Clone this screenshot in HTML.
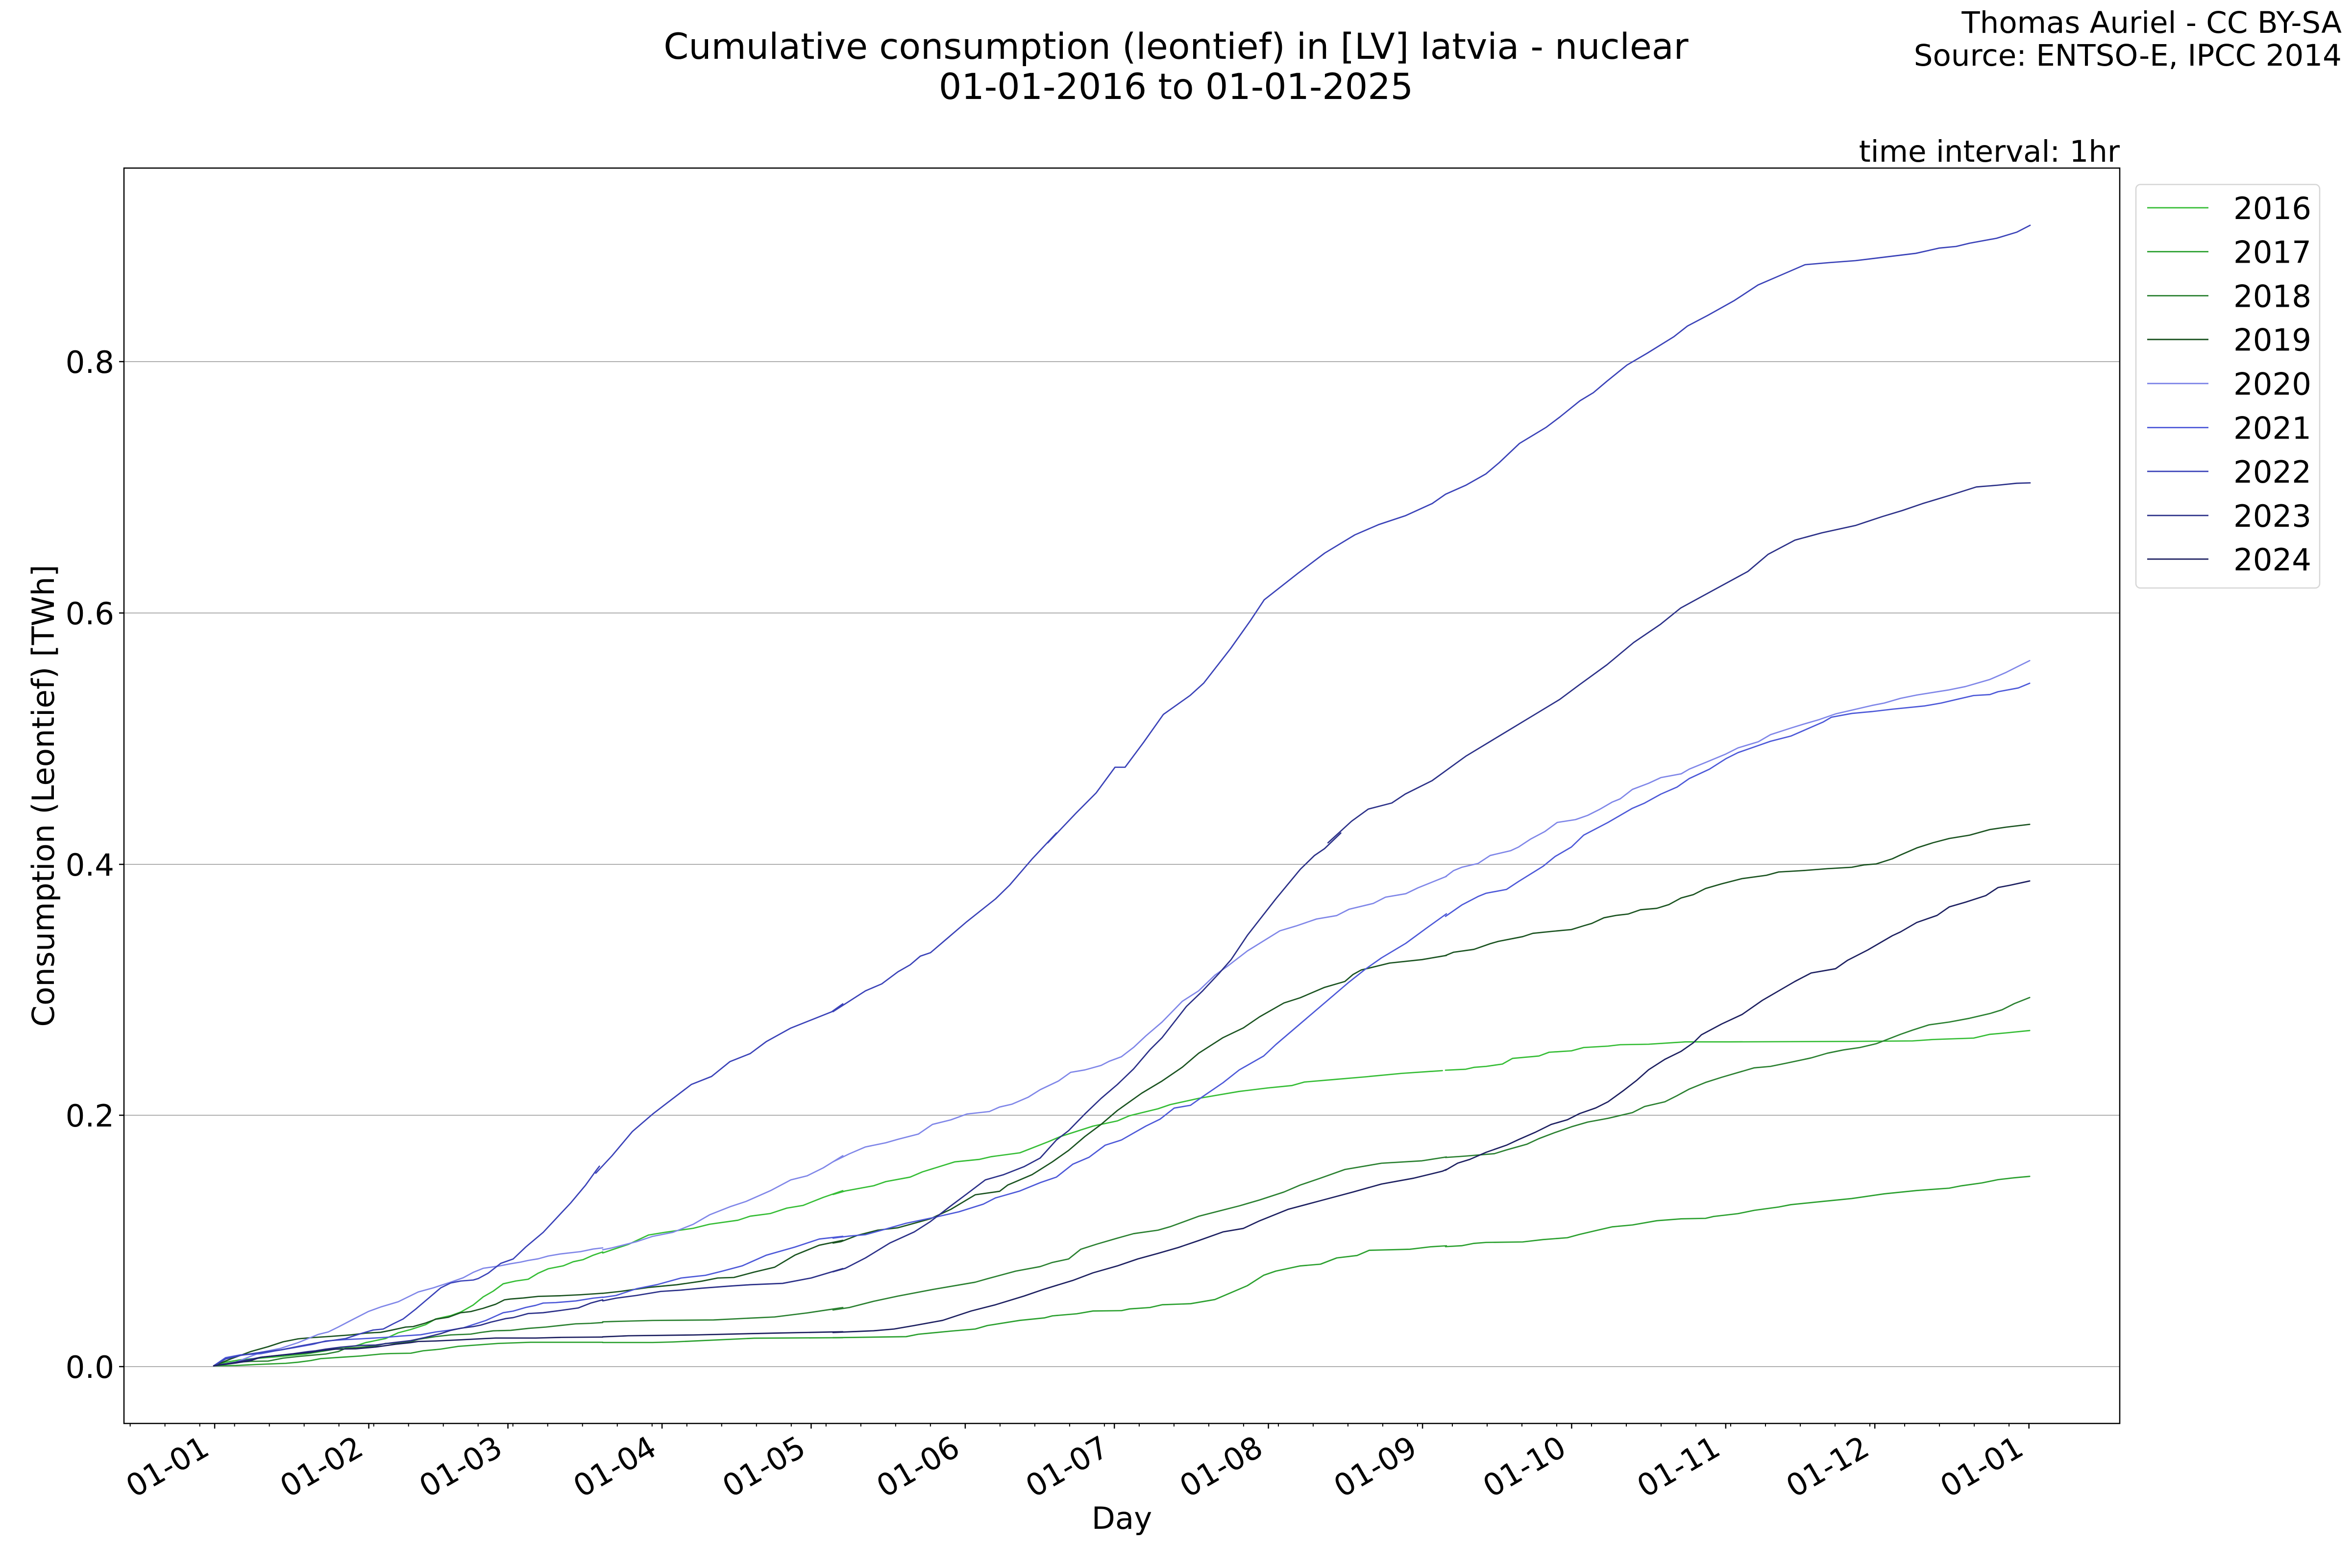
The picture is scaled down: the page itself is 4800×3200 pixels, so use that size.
<!DOCTYPE html>
<html>
<head>
<meta charset="utf-8">
<style>
html,body{margin:0;padding:0;background:#fff;}
svg{display:block;}
text{font-family:"DejaVu Sans","Liberation Sans",sans-serif;fill:#000;}
.s{fill:none;stroke-width:2.7;stroke-linejoin:round;stroke-linecap:round;}
.s polyline{vector-effect:non-scaling-stroke;}
</style>
</head>
<body>
<svg width="4800" height="3200" viewBox="0 0 4800 3200" xmlns="http://www.w3.org/2000/svg">
<rect x="0" y="0" width="4800" height="3200" fill="#fff"/>

<!-- titles -->
<text x="2400" y="120" font-size="73" text-anchor="middle">Cumulative consumption (leontief) in [LV] latvia - nuclear</text>
<text x="2400" y="202" font-size="73" text-anchor="middle">01-01-2016 to 01-01-2025</text>
<text x="4779" y="67" font-size="61" text-anchor="end">Thomas Auriel - CC BY-SA</text>
<text x="4779" y="134" font-size="61" text-anchor="end">Source: ENTSO-E, IPCC 2014</text>
<text x="4326" y="330" font-size="61" text-anchor="end">time interval: 1hr</text>

<!-- grid -->
<g stroke="#b0b0b0" stroke-width="2">
<line x1="253" y1="2789" x2="4326" y2="2789"/>
<line x1="253" y1="2276" x2="4326" y2="2276"/>
<line x1="253" y1="1764" x2="4326" y2="1764"/>
<line x1="253" y1="1251" x2="4326" y2="1251"/>
<line x1="253" y1="738" x2="4326" y2="738"/>
</g>

<!-- series -->
<g class="s" stroke="#35bd35">
<polyline transform="translate(430,2380) scale(0.510204,0.333333)" points="12,1222 60,1200 120,1185 200,1175 280,1165 380,1150 460,1130 530,1110 580,1100 620,1080 700,1055 750,1020 800,1000 860,970 900,935 960,915 1000,893 1050,850 1090,800 1130,765 1170,720 1220,703 1270,692 1310,655 1350,628 1410,610 1450,585 1490,572 1530,545 1568,525"/>
<polyline transform="translate(420,1950) scale(0.829082,0.548469)" points="977,1107 1000,1095 1040,1075 1090,1040 1130,1030 1200,1015 1240,1000 1310,985 1340,970 1390,960 1430,940 1470,930 1520,900 1568,875"/>
<polyline transform="translate(1700,1700) scale(0.829082,0.707908)" points="0,1042 30,1032 100,1017 130,1005 190,992 220,977 300,948 360,941 390,933 460,922 530,890 560,875 600,860 640,845 700,830 730,815 800,795 830,783 900,765 950,755 1000,745 1070,735 1130,728 1160,718 1240,710 1310,703 1400,693 1500,685"/>
<polyline transform="translate(2950,1300) scale(0.829082,0.963010)" points="0,918 50,916 70,912 100,910 140,905 165,893 230,888 255,880 310,877 340,870 400,867 430,864 500,863 590,858 700,858 1000,857 1150,856 1200,853 1300,850 1340,842 1380,839 1438,834"/>
</g>

<g class="s" stroke="#2ba02f">
<polyline transform="translate(430,2380) scale(0.510204,0.333333)" points="12,1222 100,1220 200,1213 300,1207 350,1200 400,1190 440,1178 520,1170 600,1162 680,1150 720,1147 800,1145 850,1130 920,1120 990,1103 1080,1093 1150,1085 1280,1078 1568,1078"/>
<polyline transform="translate(420,1950) scale(0.829082,0.548469)" points="977,1440 1100,1440 1150,1438 1350,1424 1568,1422"/>
<polyline transform="translate(1700,1700) scale(0.829082,0.707908)" points="0,1455 180,1452 210,1445 290,1436 350,1430 380,1420 460,1405 520,1398 540,1392 600,1386 640,1378 710,1377 730,1372 780,1368 810,1360 880,1357 940,1345 980,1325 1020,1305 1060,1275 1090,1263 1150,1248 1200,1243 1240,1225 1290,1218 1320,1203 1420,1200 1470,1193 1510,1190"/>
<polyline transform="translate(2950,1300) scale(0.829082,0.963010)" points="0,1292 40,1290 70,1285 100,1283 190,1282 240,1277 300,1273 330,1266 370,1258 410,1250 460,1246 520,1237 580,1233 640,1232 660,1228 720,1222 760,1215 820,1208 850,1203 930,1196 1000,1190 1080,1180 1160,1173 1240,1168 1270,1163 1320,1157 1360,1150 1400,1146 1438,1143"/>
</g>

<g class="s" stroke="#2a8030">
<polyline transform="translate(430,2380) scale(0.510204,0.333333)" points="12,1222 100,1200 160,1195 230,1193 290,1175 350,1165 420,1155 460,1150 510,1135 540,1115 600,1108 660,1100 700,1085 760,1083 800,1075 830,1060 900,1043 960,1033 1040,1028 1080,1018 1130,1008 1200,1005 1270,993 1340,985 1400,975 1460,965 1520,962 1568,957"/>
<polyline transform="translate(420,1950) scale(0.829082,0.548469)" points="977,1363 1000,1362 1100,1358 1250,1356 1330,1350 1400,1345 1480,1330 1568,1310"/>
<polyline transform="translate(1700,1700) scale(0.829082,0.707908)" points="0,1375 40,1368 100,1350 160,1335 250,1315 350,1295 380,1285 450,1263 510,1250 540,1238 580,1228 610,1200 650,1185 700,1168 740,1155 800,1145 830,1135 900,1105 950,1090 1000,1075 1050,1058 1110,1035 1150,1015 1200,995 1260,970 1350,952 1450,945 1510,934"/>
<polyline transform="translate(2950,1300) scale(0.829082,0.963010)" points="0,1103 50,1100 120,1095 150,1087 200,1075 230,1063 270,1050 310,1038 350,1028 400,1020 460,1008 490,995 540,985 570,972 600,958 640,944 680,933 720,923 760,913 800,910 840,903 900,892 940,882 980,875 1020,870 1060,862 1090,852 1120,842 1150,833 1190,822 1240,816 1290,808 1340,798 1370,790 1400,777 1438,764"/>
</g>

<g class="s" stroke="#1a5320">
<polyline transform="translate(430,2380) scale(0.510204,0.333333)" points="12,1222 80,1180 160,1135 230,1105 290,1075 350,1057 400,1050 470,1043 560,1033 620,1022 680,1017 720,1005 780,985 810,982 860,960 900,937 950,925 1000,897 1040,890 1090,870 1140,845 1175,818 1200,813 1250,807 1310,797 1400,793 1480,787 1568,778"/>
<polyline transform="translate(420,1950) scale(0.829082,0.548469)" points="977,1257 1020,1250 1090,1235 1160,1225 1220,1212 1260,1200 1300,1198 1350,1178 1400,1160 1450,1115 1510,1078 1568,1060"/>
<polyline transform="translate(1700,1700) scale(0.829082,0.707908)" points="0,1182 20,1178 60,1160 110,1145 160,1138 200,1125 240,1112 290,1085 350,1043 410,1033 430,1015 490,985 540,948 580,915 620,875 660,840 700,800 760,750 810,715 860,675 900,635 960,590 1010,562 1050,530 1110,490 1150,475 1210,445 1260,428 1280,408 1300,395 1370,375 1450,365 1510,353"/>
<polyline transform="translate(2950,1300) scale(0.829082,0.963010)" points="0,675 20,668 70,662 110,650 130,645 190,635 215,628 260,624 310,620 340,612 360,607 390,595 420,590 450,587 480,578 520,575 550,567 580,553 610,546 640,533 680,523 730,512 790,505 820,498 880,495 940,491 1000,488 1030,483 1060,481 1100,470 1120,462 1160,447 1200,436 1240,427 1290,420 1340,408 1380,403 1438,397"/>
</g>

<g class="s" stroke="#7f86e8">
<polyline transform="translate(430,2380) scale(0.510204,0.333333)" points="12,1222 100,1200 200,1140 280,1115 350,1080 430,1030 470,1015 510,985 560,945 630,890 680,862 750,830 790,800 830,770 890,745 920,730 960,710 1010,683 1050,650 1090,625 1150,612 1200,597 1240,587 1270,577 1310,567 1350,550 1400,537 1480,523 1530,507 1568,500"/>
<polyline transform="translate(420,1950) scale(0.829082,0.548469)" points="977,1095 1000,1088 1060,1065 1100,1045 1150,1030 1200,1000 1240,965 1290,935 1330,915 1390,875 1440,835 1480,820 1520,790 1568,745"/>
<polyline transform="translate(1700,1700) scale(0.829082,0.707908)" points="0,948 40,925 80,905 130,893 160,883 210,868 245,840 290,827 330,810 385,803 410,790 440,782 480,762 510,740 555,715 585,690 620,683 660,670 680,658 710,645 740,618 770,585 810,545 860,485 900,455 940,410 970,385 1020,340 1100,282 1140,268 1190,248 1240,238 1270,220 1330,203 1360,185 1410,175 1440,158 1510,125"/>
<polyline transform="translate(2950,1300) scale(0.829082,0.963010)" points="0,508 20,495 40,488 80,480 110,463 160,453 180,445 210,428 245,412 275,393 320,387 350,378 380,365 410,350 430,343 460,323 500,310 530,298 580,290 600,280 640,266 690,248 720,235 770,222 800,207 850,193 880,185 920,175 960,163 1000,155 1050,145 1080,140 1120,130 1160,123 1240,112 1280,105 1340,90 1380,75 1410,62 1438,50"/>
</g>

<g class="s" stroke="#4c58d8">
<polyline transform="translate(430,2380) scale(0.510204,0.333333)" points="12,1222 60,1172 120,1155 200,1148 260,1130 330,1112 410,1090 460,1070 530,1062 600,1057 700,1048 760,1040 840,1032 900,1015 960,1003 1010,990 1050,970 1100,945 1170,897 1210,887 1260,865 1300,852 1330,838 1380,835 1460,825 1530,808 1568,802"/>
<polyline transform="translate(420,1950) scale(0.829082,0.548469)" points="977,1272 1010,1265 1060,1240 1110,1225 1170,1200 1230,1190 1270,1175 1320,1155 1380,1115 1450,1085 1510,1055 1568,1045"/>
<polyline transform="translate(1700,1700) scale(0.829082,0.707908)" points="0,1168 40,1162 80,1158 120,1145 180,1125 250,1108 310,1092 370,1070 400,1052 460,1032 510,1008 550,992 590,955 630,935 670,900 710,885 770,845 805,825 840,793 880,785 910,760 960,720 1000,683 1060,643 1090,610 1140,560 1180,520 1230,470 1270,430 1310,393 1350,360 1410,318 1460,275 1510,233"/>
<polyline transform="translate(2950,1300) scale(0.829082,0.963010)" points="0,592 40,568 80,550 100,543 150,535 180,518 240,486 270,465 310,445 340,420 400,393 460,363 490,352 530,333 570,318 600,300 650,280 690,258 720,245 770,230 800,221 850,210 890,195 930,180 950,170 1000,162 1050,158 1100,153 1180,146 1220,140 1260,132 1300,124 1340,122 1360,116 1410,108 1438,98"/>
</g>

<g class="s" stroke="#3a42b8">
<polyline transform="translate(430,2380) scale(0.510204,0.333333)" points="12,1222 60,1180 120,1158 200,1140 280,1125 360,1100 450,1075 540,1055 600,1025 650,1003 690,997 730,965 770,935 820,875 870,810 920,745 960,715 1000,703 1050,697 1070,688 1110,655 1160,595 1210,568 1260,495 1330,405 1400,290 1440,225 1500,115 1540,30 1555,0"/>
<polyline transform="translate(420,1950) scale(0.829082,0.548469)" points="960,810 1000,745 1050,655 1100,590 1130,555 1195,480 1245,450 1290,395 1340,365 1380,320 1440,270 1490,240 1540,210 1568,180"/>
<polyline transform="translate(1700,1700) scale(0.829082,0.707908)" points="0,515 40,485 80,455 120,435 160,400 190,380 215,355 240,345 280,305 330,255 400,190 435,150 490,75 550,0"/>
<polyline transform="translate(2100,420) scale(1.371173,0.829082)" points="28,1568 70,1495 100,1445 128,1382 143,1382 170,1322 200,1252 240,1205 260,1175 300,1090 330,1020 350,970 400,905 440,855 485,810 520,785 560,763 600,733 620,710 650,688 680,660 700,632 730,585 770,545 790,520 820,480 840,460 860,432 890,392 920,363 960,322 980,296 1010,270 1050,233 1085,195 1120,170 1155,145 1190,140 1230,135 1280,125 1320,117 1355,104 1380,100 1400,92 1440,80 1470,65 1490,48"/>
</g>

<g class="s" stroke="#2b3088">
<polyline transform="translate(430,2380) scale(0.510204,0.333333)" points="12,1222 100,1200 200,1170 260,1160 330,1148 390,1135 420,1130 460,1120 520,1108 600,1097 660,1095 720,1082 800,1068 860,1048 920,1025 960,1005 1000,992 1050,982 1080,973 1120,955 1180,933 1210,927 1270,902 1330,897 1400,883 1470,868 1520,838 1568,818"/>
<polyline transform="translate(420,1950) scale(0.829082,0.548469)" points="977,1285 1010,1275 1060,1265 1120,1250 1170,1245 1220,1238 1290,1230 1340,1225 1420,1220 1490,1200 1568,1165"/>
<polyline transform="translate(1700,1700) scale(0.829082,0.707908)" points="0,1265 30,1255 80,1225 140,1182 200,1150 240,1120 290,1075 330,1040 375,1000 420,985 470,962 510,937 550,885 580,858 620,810 660,765 700,725 740,680 780,625 810,590 840,545 870,500 910,455 950,405 980,365 1020,295 1050,250 1090,190 1150,105 1185,65 1210,45 1250,0"/>
<polyline transform="translate(2100,420) scale(1.371173,0.829082)" points="445,1568 480,1515 505,1485 540,1470 560,1448 600,1415 650,1355 700,1305 750,1255 790,1215 820,1178 860,1130 900,1075 940,1030 970,990 1020,945 1070,900 1100,858 1140,823 1180,805 1230,787 1270,765 1300,750 1330,733 1370,713 1410,692 1440,688 1470,683 1490,682"/>
</g>

<g class="s" stroke="#1c1f60">
<polyline transform="translate(430,2380) scale(0.510204,0.333333)" points="12,1222 100,1205 160,1190 200,1170 260,1160 330,1150 400,1140 440,1130 500,1120 580,1118 660,1107 740,1090 800,1080 830,1073 900,1070 1000,1063 1100,1055 1140,1052 1300,1052 1400,1048 1568,1046"/>
<polyline transform="translate(420,1950) scale(0.829082,0.548469)" points="977,1419 1040,1415 1200,1412 1400,1405 1568,1400"/>
<polyline transform="translate(1700,1700) scale(0.829082,0.707908)" points="0,1440 100,1435 150,1430 200,1420 270,1405 340,1378 400,1360 470,1335 520,1315 590,1290 640,1268 700,1248 750,1228 800,1212 850,1195 900,1175 960,1150 1010,1140 1050,1118 1120,1085 1200,1060 1280,1035 1350,1012 1430,995 1500,975 1510,970"/>
<polyline transform="translate(2950,1300) scale(0.829082,0.963010)" points="0,1130 30,1115 60,1107 100,1092 150,1077 180,1065 220,1050 260,1033 300,1023 330,1010 370,998 400,985 440,960 470,940 500,917 540,895 580,878 610,860 630,843 680,820 730,800 780,770 820,750 860,730 900,712 960,703 990,685 1040,663 1060,653 1100,633 1120,625 1160,605 1210,590 1240,572 1280,562 1330,548 1360,531 1390,526 1438,517"/>
</g>

<!-- spines -->
<rect x="253" y="343" width="4073" height="2562" fill="none" stroke="#000" stroke-width="2.5"/>

<!-- y ticks -->
<path d="M243,2789h10M243,2276h10M243,1764h10M243,1251h10M243,738h10" stroke="#000" stroke-width="2.5"/>
<g font-size="62.5" text-anchor="end">
<text x="233" y="2812">0.0</text>
<text x="233" y="2299">0.2</text>
<text x="233" y="1787">0.4</text>
<text x="233" y="1274">0.6</text>
<text x="233" y="761">0.8</text>
</g>

<!-- x ticks -->
<path d="M438.1,2905v10.5M752.6,2905v10.5M1036.6,2905v10.5M1351.1,2905v10.5M1655.4,2905v10.5M1969.9,2905v10.5M2274.2,2905v10.5M2588.6,2905v10.5M2903.1,2905v10.5M3207.4,2905v10.5M3521.9,2905v10.5M3826.2,2905v10.5M4140.7,2905v10.5" stroke="#000" stroke-width="2.5"/>
<path d="M265.65,2905v6.3m71.008,-6.3v6.3m71.008,-6.3v6.3m71.008,-6.3v6.3m71.008,-6.3v6.3m71.008,-6.3v6.3m71.008,-6.3v6.3m71.008,-6.3v6.3m71.008,-6.3v6.3m71.008,-6.3v6.3m71.008,-6.3v6.3m71.008,-6.3v6.3m71.008,-6.3v6.3m71.008,-6.3v6.3m71.008,-6.3v6.3m71.008,-6.3v6.3m71.008,-6.3v6.3m71.008,-6.3v6.3m71.008,-6.3v6.3m71.008,-6.3v6.3m71.008,-6.3v6.3m71.008,-6.3v6.3m71.008,-6.3v6.3m71.008,-6.3v6.3m71.008,-6.3v6.3m71.008,-6.3v6.3m71.008,-6.3v6.3m71.008,-6.3v6.3m71.008,-6.3v6.3m71.008,-6.3v6.3m71.008,-6.3v6.3m71.008,-6.3v6.3m71.008,-6.3v6.3m71.008,-6.3v6.3m71.008,-6.3v6.3m71.008,-6.3v6.3m71.008,-6.3v6.3m71.008,-6.3v6.3m71.008,-6.3v6.3m71.008,-6.3v6.3m71.008,-6.3v6.3m71.008,-6.3v6.3m71.008,-6.3v6.3m71.008,-6.3v6.3m71.008,-6.3v6.3m71.008,-6.3v6.3m71.008,-6.3v6.3m71.008,-6.3v6.3m71.008,-6.3v6.3m71.008,-6.3v6.3m71.008,-6.3v6.3m71.008,-6.3v6.3m71.008,-6.3v6.3m71.008,-6.3v6.3m71.008,-6.3v6.3" stroke="#000" stroke-width="2"/>
<g font-size="62.5" text-anchor="end">
<text transform="translate(431.1,2966.5) rotate(-30)">01-01</text>
<text transform="translate(745.6,2966.5) rotate(-30)">01-02</text>
<text transform="translate(1029.6,2966.5) rotate(-30)">01-03</text>
<text transform="translate(1344.1,2966.5) rotate(-30)">01-04</text>
<text transform="translate(1648.4,2966.5) rotate(-30)">01-05</text>
<text transform="translate(1962.9,2966.5) rotate(-30)">01-06</text>
<text transform="translate(2267.2,2966.5) rotate(-30)">01-07</text>
<text transform="translate(2581.6,2966.5) rotate(-30)">01-08</text>
<text transform="translate(2896.1,2966.5) rotate(-30)">01-09</text>
<text transform="translate(3200.4,2966.5) rotate(-30)">01-10</text>
<text transform="translate(3514.9,2966.5) rotate(-30)">01-11</text>
<text transform="translate(3819.2,2966.5) rotate(-30)">01-12</text>
<text transform="translate(4133.7,2966.5) rotate(-30)">01-01</text>
</g>

<!-- axis labels -->
<text x="2289.5" y="3120" font-size="62.5" text-anchor="middle">Day</text>
<text transform="translate(110,1624) rotate(-90)" font-size="62.5" text-anchor="middle">Consumption (Leontief) [TWh]</text>

<!-- legend -->
<rect x="4359" y="376.5" width="375" height="823.5" rx="9" ry="9" fill="#fff" fill-opacity="0.8" stroke="#d6d6d6" stroke-width="2.5"/>
<g stroke-width="2.8">
<line x1="4382" y1="424" x2="4507" y2="424" stroke="#35bd35"/>
<line x1="4382" y1="513.6" x2="4507" y2="513.6" stroke="#2ba02f"/>
<line x1="4382" y1="603.5" x2="4507" y2="603.5" stroke="#2a8030"/>
<line x1="4382" y1="692.8" x2="4507" y2="692.8" stroke="#1a5320"/>
<line x1="4382" y1="782.7" x2="4507" y2="782.7" stroke="#7f86e8"/>
<line x1="4382" y1="872.6" x2="4507" y2="872.6" stroke="#4c58d8"/>
<line x1="4382" y1="962" x2="4507" y2="962" stroke="#3a42b8"/>
<line x1="4382" y1="1052" x2="4507" y2="1052" stroke="#2b3088"/>
<line x1="4382" y1="1141" x2="4507" y2="1141" stroke="#1c1f60"/>
</g>
<g font-size="62.5">
<text x="4558" y="446.8">2016</text>
<text x="4558" y="536.4">2017</text>
<text x="4558" y="626.3">2018</text>
<text x="4558" y="715.6">2019</text>
<text x="4558" y="805.5">2020</text>
<text x="4558" y="895.4">2021</text>
<text x="4558" y="984.8">2022</text>
<text x="4558" y="1074.8">2023</text>
<text x="4558" y="1163.8">2024</text>
</g>
</svg>
</body>
</html>
